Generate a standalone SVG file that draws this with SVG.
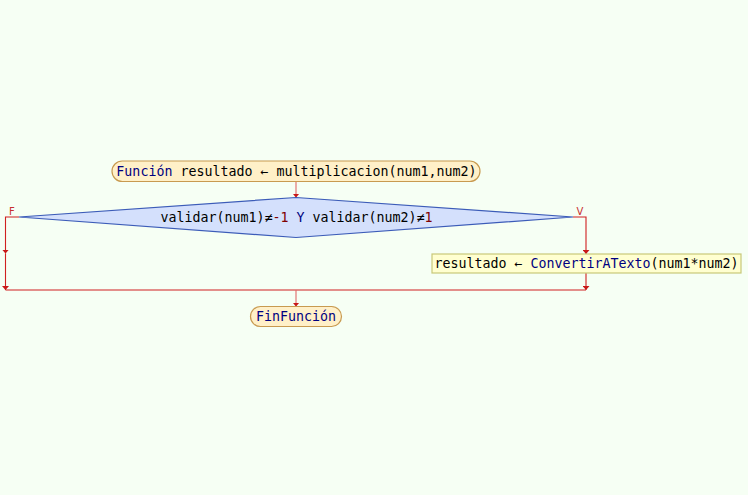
<svg xmlns="http://www.w3.org/2000/svg" width="748" height="495" viewBox="0 0 748 495">
<style>
.t{font-family:"DejaVu Sans Mono","Liberation Mono",monospace;font-size:13.3px;fill:#000;text-anchor:middle}
.kw{fill:#000080}
.num{fill:#800000}
.lbl{font-family:"DejaVu Sans","Liberation Sans",sans-serif;font-size:10px;fill:#c83030;text-anchor:middle}
.term{fill:#fff0c8;stroke:#c89a50;stroke-width:1.2}
.dec{fill:#d4e0fc;stroke:#3c5cb8;stroke-width:1.2}
.proc{fill:#ffffd0;stroke:#c8c878;stroke-width:1.2}
.c{fill:none;stroke:#d02020;stroke-width:1.1}
.c2{fill:none;stroke:#e06868;stroke-width:1.1}
</style>
<defs>
<marker id="ah" viewBox="0 0 4 7" refX="4" refY="3.5" markerWidth="4" markerHeight="7" markerUnits="userSpaceOnUse" orient="auto">
<path d="M0,0 L4,3.5 L0,7 z" fill="#c81818"/>
</marker>
</defs>
<rect width="748" height="495" fill="#f6fff4"/>
<g id="connectors">
<path class="c2" d="M296,181.5 V197.5" marker-end="url(#ah)"/>
<path class="c" d="M19,217 H5.5 V253.5" marker-end="url(#ah)"/>
<path class="c" d="M5.5,253.5 V290" marker-end="url(#ah)"/>
<path class="c" d="M573,217 H586 V254" marker-end="url(#ah)"/>
<path class="c" d="M586,273 V290" marker-end="url(#ah)"/>
<path class="c" d="M5.5,290 H586"/>
<path class="c2" d="M296,290 V306.5" marker-end="url(#ah)"/>
<text class="lbl" x="12" y="215">F</text>
<text class="lbl" x="580" y="215">V</text>
</g>
<g id="start">
<rect class="term" x="112" y="161" width="368" height="20.5" rx="10.25"/>
<text class="t" x="296.5" y="176"><tspan class="kw">Función</tspan> resultado ← multiplicacion(num1,num2)</text>
</g>
<g id="decision">
<polygon class="dec" points="296,197.5 573,217 296,237.5 19,217"/>
<text class="t" x="296.5" y="222">validar(num1)≠<tspan class="num">-1</tspan> <tspan class="kw">Y</tspan> validar(num2)≠<tspan class="num">1</tspan></text>
</g>
<g id="assign">
<rect class="proc" x="432" y="254" width="309" height="19"/>
<text class="t" x="586.5" y="268">resultado ← <tspan class="kw">ConvertirATexto</tspan>(num1*num2)</text>
</g>
<g id="end">
<rect class="term" x="250.5" y="306.5" width="91" height="20" rx="10"/>
<text class="t kw" x="296" y="321">FinFunción</text>
</g>
</svg>
